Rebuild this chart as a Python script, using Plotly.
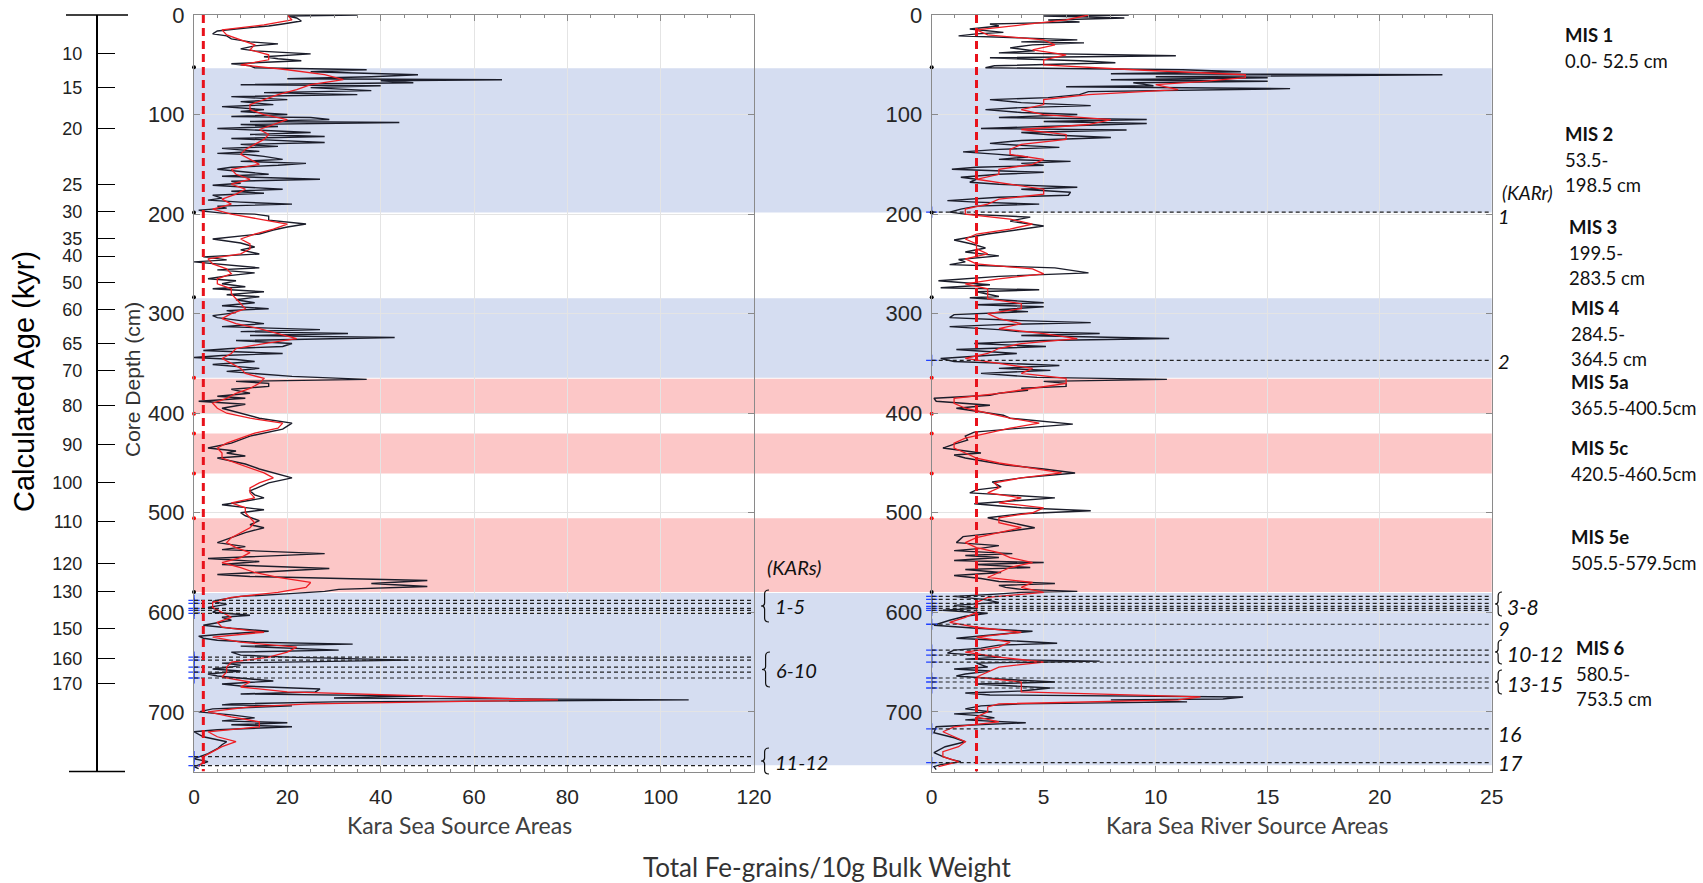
import plotly.graph_objects as go

W, H = 1703, 883


def fx(px):
    return px / W


def fy(py):
    return 1 - py / H


# ---------------- DATA ----------------
# Kara Sea Source Areas (left panel): raw counts (depth cm, Fe-grains/10g)
kara_sea_raw = [
    (0, 35), (1, 20), (3, 22), (6, 23), (9, 19), (11, 16), (14, 9), (16, 5), (19, 4), (21, 7), (24, 8),
    (27, 12), (29, 18), (31, 13), (34, 10), (36, 13), (39, 25), (42, 15), (44, 18), (46, 23), (49, 8),
    (51, 12), (53, 13), (55, 37), (57, 25), (60, 48), (62, 38), (64, 20), (65, 66), (66, 40), (68, 47),
    (70, 10), (71, 40), (73, 25), (76, 38), (78, 15), (80, 35), (82, 8), (85, 20), (87, 10), (90, 17),
    (92, 6), (95, 15), (97, 10), (100, 20), (102, 8), (103, 25), (105, 29), (107, 12), (108, 44), (110, 10),
    (112, 18), (114, 5), (117, 19), (118, 25), (120, 12), (122, 28), (124, 8), (126, 20), (128, 28),
    (130, 10), (132, 18), (134, 6), (137, 14), (139, 5), (140, 11), (142, 15), (145, 19), (147, 10),
    (149, 24), (151, 18), (153, 8), (155, 5), (157, 10), (160, 16), (162, 6), (165, 27), (167, 8),
    (169, 10), (171, 4), (173, 12), (175, 19), (177, 8), (179, 15), (181, 4), (184, 6), (186, 3),
    (188, 10), (190, 21), (192, 5), (194, 7), (196, 1), (197, 2), (199, 6), (200, 13), (202, 16),
    (206, 16), (210, 24), (213, 20), (216, 17), (220, 14), (225, 4), (229, 10), (233, 13), (236, 10),
    (240, 14), (243, 2), (246, 7), (248, 0), (250, 5), (252, 9), (254, 14), (256, 5), (259, 13), (262, 7),
    (265, 3), (267, 9), (270, 6), (273, 11), (275, 4), (278, 15), (281, 7), (283, 14), (286, 9), (289, 13),
    (292, 6), (295, 16), (297, 7), (299, 9), (302, 4), (304, 5), (307, 10), (310, 15), (313, 6), (316, 27),
    (318, 10), (320, 33), (322, 12), (324, 43), (327, 9), (330, 21), (333, 19), (335, 8), (337, 2),
    (340, 19), (342, 6), (344, 0), (346, 9), (348, 13), (351, 4), (355, 14), (358, 7), (360, 12),
    (363, 21), (366, 37), (368, 9), (370, 16), (373, 16), (376, 8), (380, 12), (383, 5), (385, 11),
    (388, 1), (391, 11), (395, 6), (399, 9), (405, 14), (410, 21), (416, 19), (423, 12), (430, 8),
    (435, 3), (438, 9), (440, 7), (443, 11), (445, 5), (451, 11), (456, 14), (460, 17), (465, 21),
    (470, 16), (472, 15), (478, 12), (482, 13), (485, 15), (490, 9), (492, 6), (497, 15), (500, 10),
    (503, 11), (508, 14), (512, 12), (515, 15), (520, 11), (525, 8), (530, 5), (534, 11), (537, 6),
    (541, 28), (544, 12), (546, 3), (549, 14), (552, 6), (556, 29), (559, 16), (562, 5), (564, 12),
    (568, 50), (571, 38), (574, 50), (577, 31), (579, 28), (582, 18), (584, 10), (587, 6), (589, 4),
    (592, 7), (595, 3), (597, 5), (600, 4), (603, 12), (605, 6), (608, 8), (611, 4), (613, 2), (616, 8),
    (619, 16), (622, 6), (624, 1), (626, 2), (628, 5), (630, 13), (632, 34), (634, 10), (636, 20),
    (638, 31), (640, 8), (643, 10), (645, 20), (648, 46), (651, 6), (653, 10), (655, 8), (657, 4),
    (659, 10), (662, 3), (664, 5), (667, 12), (669, 17), (672, 6), (674, 10), (677, 27), (680, 26),
    (682, 10), (684, 49), (686, 30), (688, 106), (690, 30), (692, 8), (693, 6), (694, 21), (697, 4),
    (700, 1), (703, 8), (706, 13), (709, 6), (711, 20), (713, 8), (715, 21), (718, 5), (720, 0),
    (725, 2), (730, 7), (733, 6), (737, 5), (742, 3), (747, 0), (750, 3), (753, 1), (755, 0), (757, 1),
]

# Kara Sea Source Areas: smoothed curve (red)
kara_sea_smooth = [
    (0, 20), (5, 21), (10, 15), (15, 6), (20, 7), (25, 10), (30, 13), (35, 12), (40, 16), (45, 16),
    (50, 10), (55, 20), (60, 28), (65, 32), (70, 25), (75, 22), (80, 18), (85, 15), (90, 12), (95, 12),
    (100, 15), (105, 20), (110, 17), (115, 14), (120, 16), (125, 15), (130, 13), (135, 11), (140, 10),
    (145, 12), (150, 14), (155, 8), (160, 9), (165, 12), (170, 8), (175, 11), (180, 9), (185, 6),
    (190, 8), (195, 4), (200, 8), (205, 14), (210, 20), (215, 17), (220, 13), (225, 10), (230, 12),
    (235, 12), (240, 10), (245, 3), (250, 4), (255, 7), (260, 8), (265, 5), (270, 5), (275, 8), (280, 8),
    (285, 9), (290, 10), (295, 11), (300, 8), (305, 6), (310, 9), (315, 14), (320, 18), (325, 22),
    (330, 15), (335, 9), (340, 8), (345, 6), (350, 8), (355, 10), (360, 11), (365, 15), (370, 14),
    (375, 12), (380, 9), (385, 7), (390, 4), (395, 5), (400, 7), (405, 12), (410, 19), (415, 18),
    (420, 13), (425, 10), (430, 7), (435, 5), (440, 6), (445, 6), (450, 9), (455, 12), (460, 15),
    (465, 17), (470, 14), (475, 12), (480, 12), (485, 13), (490, 8), (495, 11), (500, 11), (505, 12),
    (510, 13), (515, 12), (520, 10), (525, 8), (530, 7), (535, 9), (540, 12), (545, 10), (550, 6),
    (555, 10), (560, 13), (565, 18), (570, 25), (575, 24), (580, 18), (585, 8), (590, 4), (595, 4),
    (600, 6), (605, 8), (610, 5), (615, 6), (620, 15), (625, 4), (630, 10), (635, 22), (640, 20),
    (645, 16), (650, 8), (655, 7), (660, 7), (665, 6), (670, 12), (675, 10), (680, 20), (685, 55),
    (688, 78), (692, 25), (695, 12), (700, 3), (705, 8), (710, 14), (715, 14), (720, 3), (725, 5),
    (730, 9), (735, 6), (740, 4), (745, 2), (750, 2), (755, 1),
]

# Kara Sea River Source Areas (right panel): raw counts
kara_river_raw = [
    (0, 8.8), (1, 5), (2, 7), (3, 8.6), (5, 5.2), (7, 6.6), (9, 2.6), (11, 3), (14, 1.7), (16, 2.5),
    (17.5, 3.2), (19, 2), (21, 1.2), (23, 4), (25, 6.5), (27, 4), (28, 6.8), (30, 4.5), (33, 3.5),
    (36, 4.6), (38, 3), (41, 10.9), (43, 2.6), (46, 6.6), (48, 8.2), (51, 2.8), (53, 2.4), (55, 11.2),
    (57, 13.8), (59, 8), (60, 22.8), (62, 10), (63, 15), (65, 8), (66.5, 15), (68, 9), (71, 9.9), (72, 6),
    (74, 16), (77, 7), (80, 6.6), (83, 5.2), (85, 2.6), (88, 4), (91, 7.1), (93, 4), (95, 2.4), (98, 4),
    (100, 6.5), (103, 3), (105, 9.6), (107, 5), (109, 9.6), (112, 5), (114, 2.2), (115.5, 8.7), (118, 4),
    (120.6, 5.4), (123, 8), (126, 4), (129, 2.6), (131, 4), (133, 5.7), (135, 3), (137.5, 1.4), (140, 3),
    (142.6, 4.3), (145, 3), (147, 6.2), (149, 4), (151, 5), (153, 2), (155, 0.9), (158, 5), (160, 3),
    (163, 1.3), (165, 2), (168, 1.7), (170, 3), (173, 6.5), (175, 4), (178, 6.2), (181, 6.1), (183, 3),
    (186.5, 0.7), (188, 2), (190, 4.8), (192, 2), (195, 1.3), (198, 0.8), (200, 1.5), (203, 4.4),
    (207, 3.5), (212, 5), (215, 4), (220, 2.5), (226, 1), (230, 1.8), (234, 2.4), (238, 1.5), (242, 3),
    (245.6, 1.2), (248, 1.5), (250.7, 0.8), (254, 5.5), (259, 7), (262.5, 3), (265, 1.5), (267, 0.3),
    (271, 2.6), (274, 0.4), (276, 4.8), (278, 2), (282.8, 3), (284, 1.7), (289, 5), (291, 2), (293, 5),
    (296, 3), (298, 4.3), (301, 1), (304, 0.8), (307, 4), (309, 7.1), (311, 3), (313, 0.8), (316, 3),
    (318, 3.9), (320, 7.5), (322, 4), (325, 10.6), (327, 5), (330, 1.9), (333, 5.1), (336, 1.1),
    (340, 3.8), (343, 2), (345, 0.4), (348, 1), (350, 3), (352, 5.7), (355, 3), (357, 5.3), (360, 2.2),
    (364, 4.7), (366, 10.5), (368, 5), (370, 6), (373, 6), (375, 4), (377, 4.3), (380, 3), (382, 2.6),
    (385, 0.1), (388, 0.2), (392, 2.6), (395, 1.1), (398, 2), (402, 3.2), (405, 3.5), (411, 6.3),
    (415, 4), (419, 1.9), (423, 1.5), (427, 1.6), (431, 1), (435, 0.5), (440, 2.2), (442, 1), (445, 1.5),
    (452, 3.3), (456, 5), (460, 6.4), (465, 4), (469, 2.7), (474, 3.1), (477, 2), (480, 1.7), (485, 5.5),
    (491, 1.9), (495, 4), (498, 7.1), (501, 4), (505, 2.5), (509, 3.3), (515, 4.6), (520, 3), (524, 1.4),
    (530, 1.1), (533, 3), (536, 2.1), (538, 1), (541, 3.6), (543, 1.5), (545, 3), (548, 1), (550, 5),
    (552, 2), (555, 4.4), (557, 1.5), (560, 3.1), (563, 1), (566, 2.2), (569, 3), (571, 5.5), (573, 3),
    (575, 3.3), (577, 4), (579, 6.5), (580, 4), (582, 2.7), (584, 1), (587, 2.3), (590, 3), (593, 1),
    (596, 2), (598, 0.5), (601, 2.5), (604, 1.5), (608, 0.8), (613, 0.1), (616, 2), (619, 4.5), (622, 3),
    (626, 1.1), (628, 3), (631, 5.6), (633, 3), (636, 2.2), (638, 1), (641, 0.7), (643, 2), (645, 3.1),
    (647, 1.5), (649, 7.5), (651, 2), (655, 2.5), (657, 1), (659, 2.6), (662, 1.5), (664, 1.1), (667, 3),
    (670, 5.5), (672, 2), (676, 5.3), (679, 4), (681, 1.5), (683, 2.6), (685, 13.9), (687, 13), (688, 8),
    (690, 11.4), (692, 4), (694, 2.2), (697, 1.5), (700, 2.7), (702, 1), (704, 2.3), (706, 2.8),
    (708, 1.5), (711, 4.2), (713, 2), (715, 0.2), (721, 0.1), (726, 1), (730, 1.5), (735, 0.6),
    (741, 0.1), (745, 0.5), (748, 0.9), (750, 1.3), (753, 0.4), (755, 0.1), (758, 0.2),
]

kara_river_smooth = [
    (0, 7), (5, 6), (10, 4), (15, 2), (20, 2.5), (25, 5), (30, 5.5), (35, 4.5), (40, 6), (45, 5), (50, 5),
    (55, 9), (60, 14), (63, 14), (67, 12), (70, 10), (75, 11), (80, 7), (85, 5), (90, 5), (95, 4),
    (100, 5), (105, 8), (110, 7), (115, 4), (120, 6), (125, 6), (130, 4), (135, 3.5), (140, 3.5),
    (145, 5), (150, 4.5), (155, 3), (160, 3), (165, 2), (170, 3.5), (175, 5), (180, 5), (185, 3),
    (190, 2.5), (195, 1.5), (200, 1.5), (205, 3.5), (210, 4.5), (215, 3.5), (220, 2), (225, 1.5),
    (230, 2), (235, 2), (240, 2.5), (245, 1.5), (250, 2), (255, 4.5), (260, 5), (265, 3), (270, 1.5),
    (275, 2.5), (280, 2.5), (285, 2.5), (290, 4), (295, 4), (300, 2.5), (305, 3), (310, 4), (315, 3),
    (320, 5), (325, 6.5), (330, 4), (335, 3), (340, 2.5), (345, 1.5), (350, 3), (355, 4.5), (360, 4),
    (365, 6), (370, 6), (375, 4.5), (380, 3), (385, 1), (390, 1), (395, 1.5), (400, 2.5), (405, 3.5),
    (410, 4.8), (415, 3.5), (420, 2.5), (425, 1.5), (430, 1), (435, 1), (440, 1.5), (445, 2), (450, 3),
    (455, 4.5), (460, 5.8), (465, 4), (470, 2.8), (475, 3), (480, 2.5), (485, 4), (490, 3), (495, 5),
    (500, 4.5), (505, 3), (510, 3), (515, 4), (520, 3), (525, 2), (530, 1.5), (535, 2), (540, 3),
    (545, 3.5), (550, 4.5), (555, 3.5), (560, 3), (565, 2.5), (570, 4.5), (575, 4), (580, 5), (585, 2.5),
    (590, 2), (595, 2), (600, 2), (605, 1.5), (610, 0.8), (615, 2), (620, 4), (625, 2), (630, 3.5),
    (635, 3), (640, 1.5), (645, 3), (650, 5), (655, 3), (660, 2.5), (665, 2), (670, 4), (675, 4),
    (680, 4), (685, 12), (688, 11), (692, 3), (695, 2.5), (700, 2.5), (705, 2), (710, 3), (715, 1),
    (720, 0.5), (725, 1), (730, 1.5), (735, 1.2), (740, 0.5), (745, 0.5), (750, 1.2), (755, 0.3),
]

# Marine isotope stage bands (depth from, depth to, kind)
mis_bands = [(53.5, 198.5, "glacial"), (284.5, 364.5, "glacial"), (365.5, 400.5, "warm"),
             (420.5, 460.5, "warm"), (505.5, 579.5, "warm"), (580.5, 753.5, "glacial")]

# KAR layer depths
kars_depths = [588, 591, 596, 598, 601, 645, 648, 655, 660, 666, 745, 754]
karr_depths = [198, 347, 584, 587, 591, 594, 596, 598, 612, 638, 643, 650, 666, 670, 676, 717, 751]

# boundary markers at x = 0
black_dot_depths = [52.5, 198.5, 283.5, 579.5]
red_dot_depths = [364.5, 400.5, 420.5, 460.5, 505.5]

# threshold (red dashed)
left_threshold = 2
right_threshold = 2

# age scale (kyr) and the core depth it corresponds to (cm)
age_labels = ["10", "15", "20", "25", "30", "35", "40", "50", "60", "65", "70", "80", "90", "100",
              "110", "120", "130", "150", "160", "170"]
age_depths = [38.5, 73.0, 113.8, 170.0, 197.2, 225.0, 242.1, 268.9, 295.6, 329.8, 357.3, 392.7,
              431.6, 469.8, 508.5, 550.7, 579.2, 616.7, 646.8, 671.3]

# MIS labels: (title, lines, x px, y px of title)
mis_labels = [
    ("MIS 1", ["0.0- 52.5 cm"], 1563, 35),
    ("MIS 2", ["53.5-", "198.5 cm"], 1563, 134),
    ("MIS 3", ["199.5-", "283.5 cm"], 1567, 227),
    ("MIS 4", ["284.5-", "364.5 cm"], 1569, 308),
    ("MIS 5a", ["365.5-400.5cm"], 1569, 382),
    ("MIS 5c", ["420.5-460.5cm"], 1569, 448),
    ("MIS 5e", ["505.5-579.5cm"], 1569, 537),
    ("MIS 6", ["580.5-", "753.5 cm"], 1574, 648),
]

# KAR group labels: (text, x px, y px, brace top px, brace bottom px or None)
kars_groups = [("1-5", 773, 606, 590, 622), ("6-10", 774, 670, 652, 687), ("11-12", 773, 762, 748, 774)]
karr_groups = [("1", 1496, 216, None, None), ("2", 1496, 361, None, None),
               ("3-8", 1505, 606, 592, 616), ("9", 1496, 628, None, None),
               ("10-12", 1505, 653, 640, 664), ("13-15", 1505, 683, 670, 694),
               ("16", 1496, 733, None, None), ("17", 1496, 762, None, None)]
# ---------------------------------------

BLUE_BAND = "rgb(213,221,241)"
PINK_BAND = "rgb(252,199,199)"
BLACK_LINE = "#1b1d2a"
RED_LINE = "#ee1d23"
TEXT_FONT = "Lato"
NUM_FONT = "Liberation Sans"

Y0, Y1 = 15, 771.6
LX0, LX1 = 194, 754
RX0, RX1 = 931.7, 1491.7

fig = go.Figure()

for data, xa, ya in [(kara_sea_raw, "x", "y"), (kara_river_raw, "x2", "y2")]:
    fig.add_trace(go.Scatter(x=[v for _, v in data], y=[d for d, _ in data], xaxis=xa, yaxis=ya,
                             mode="lines", line=dict(color=BLACK_LINE, width=1.4),
                             showlegend=False, hoverinfo="skip"))
for data, xa, ya in [(kara_sea_smooth, "x", "y"), (kara_river_smooth, "x2", "y2")]:
    fig.add_trace(go.Scatter(x=[v for _, v in data], y=[d for d, _ in data], xaxis=xa, yaxis=ya,
                             mode="lines", line=dict(color=RED_LINE, width=1.3),
                             showlegend=False, hoverinfo="skip"))

# markers at x=0
for depths, xa, ya in [(kars_depths, "x", "y"), (karr_depths, "x2", "y2")]:
    fig.add_trace(go.Scatter(x=[0] * len(depths), y=depths, xaxis=xa, yaxis=ya, mode="markers",
                             marker=dict(symbol="cross-thin", size=8, line=dict(color="#2040ff", width=1.3)),
                             cliponaxis=False, showlegend=False, hoverinfo="skip"))
for xa, ya in [("x", "y"), ("x2", "y2")]:
    fig.add_trace(go.Scatter(x=[0] * len(black_dot_depths), y=black_dot_depths, xaxis=xa, yaxis=ya,
                             mode="markers", marker=dict(size=4, color="black"), cliponaxis=False,
                             showlegend=False, hoverinfo="skip"))
    fig.add_trace(go.Scatter(x=[0] * len(red_dot_depths), y=red_dot_depths, xaxis=xa, yaxis=ya,
                             mode="markers", marker=dict(size=4, color="red"), cliponaxis=False,
                             showlegend=False, hoverinfo="skip"))

# dummy trace to activate the age axis
fig.add_trace(go.Scatter(x=[0], y=[0], xaxis="x", yaxis="y3", mode="markers",
                         marker=dict(opacity=0), showlegend=False, hoverinfo="skip"))

shapes = []
for d0, d1, kind in mis_bands:
    shapes.append(dict(type="rect", xref="paper", yref="y", x0=fx(LX0), x1=fx(RX1), y0=d0, y1=d1,
                       fillcolor=BLUE_BAND if kind == "glacial" else PINK_BAND,
                       line=dict(width=0), layer="below"))
for d in kars_depths:
    shapes.append(dict(type="line", xref="x domain", yref="y", x0=0, x1=1, y0=d, y1=d,
                       line=dict(color="#222", width=1.2, dash="4px,3px")))
for d in karr_depths:
    shapes.append(dict(type="line", xref="x2 domain", yref="y2", x0=0, x1=1, y0=d, y1=d,
                       line=dict(color="#222", width=1.2, dash="4px,3px")))
shapes.append(dict(type="line", xref="x", yref="y", x0=left_threshold, x1=left_threshold, y0=0, y1=760,
                   line=dict(color="#e8121b", width=3, dash="8px,5px")))
shapes.append(dict(type="line", xref="x2", yref="y2", x0=right_threshold, x1=right_threshold, y0=0, y1=760,
                   line=dict(color="#e8121b", width=3, dash="8px,5px")))
# age axis end caps
shapes.append(dict(type="line", xref="paper", yref="paper", x0=fx(66), x1=fx(128), y0=fy(15), y1=fy(15),
                   line=dict(color="black", width=1.5)))
shapes.append(dict(type="line", xref="paper", yref="paper", x0=fx(69), x1=fx(125), y0=fy(771.6), y1=fy(771.6),
                   line=dict(color="black", width=1.5)))


def brace_path(xt, ya, yb, w):
    """curly brace with tip at xt (px), spanning ya..yb (px), arm width w"""
    ym = (ya + yb) / 2
    xs = xt + w * 0.45
    pts = [("M", [(xt + w, ya)]),
           ("Q", [(xs, ya), (xs, ya + 4)]),
           ("L", [(xs, ym - 3)]),
           ("Q", [(xs, ym), (xt, ym)]),
           ("Q", [(xs, ym), (xs, ym + 3)]),
           ("L", [(xs, yb - 4)]),
           ("Q", [(xs, yb), (xt + w, yb)])]
    s = ""
    for cmd, pl in pts:
        s += cmd + " " + " ".join("%.5f,%.5f" % (fx(px), fy(py)) for px, py in pl) + " "
    return s.strip()


annotations = []


def ann(text, x, y, size, font=TEXT_FONT, color="#111", xanchor="left", angle=0):
    annotations.append(dict(text=text, x=fx(x), y=fy(y), xref="paper", yref="paper", showarrow=False,
                            xanchor=xanchor, yanchor="middle", textangle=angle,
                            font=dict(family=font, size=size, color=color)))


ann("Calculated Age (kyr)", 24, 382, 29, font=NUM_FONT, color="#000", xanchor="center", angle=-90)
ann("Core Depth (cm)", 133, 380, 21, font=NUM_FONT, color="#333", xanchor="center", angle=-90)
ann("Kara Sea Source Areas", 459, 825, 23, color="#404040", xanchor="center")
ann("Kara Sea River Source Areas", 1247, 825, 23, color="#404040", xanchor="center")
ann("Total Fe-grains/10g Bulk Weight", 827, 867, 26, color="#333", xanchor="center")

for title, lines, x, y in mis_labels:
    ann("<b>" + title + "</b>", x, y, 18.5)
    for i, ln in enumerate(lines):
        ann(ln, x, y + 26 + 25 * i, 18.5)

ann("<i>(KARs)</i>", 765, 567, 20)
for text, x, y, ya, yb in kars_groups:
    ann("<i>" + text + "</i>", x, y, 20)
    shapes.append(dict(type="path", xref="paper", yref="paper", path=brace_path(x - 12, ya, yb, 8),
                       line=dict(color="#111", width=1.2)))
ann("<i>(KARr)</i>", 1500, 192, 19)
for text, x, y, ya, yb in karr_groups:
    ann("<i>" + text + "</i>", x, y, 21 if len(text) > 1 else 20)
    if ya is not None:
        shapes.append(dict(type="path", xref="paper", yref="paper", path=brace_path(x - 10, ya, yb, 7),
                           line=dict(color="#111", width=1.2)))

xcommon = dict(showline=True, linecolor="#8a8a8a", linewidth=1, mirror="ticks", ticks="inside",
               ticklen=6, tickcolor="#8a8a8a", showgrid=True, gridcolor="#e4e4e4", zeroline=False,
               tickfont=dict(family=NUM_FONT, size=21, color="#262626"), ticklabelstandoff=6,
               automargin=False)
ycommon = dict(showline=True, linecolor="#8a8a8a", linewidth=1, mirror="ticks", ticks="inside",
               ticklen=6, tickcolor="#8a8a8a", showgrid=True, gridcolor="#e4e4e4", zeroline=False,
               range=[760, 0], tick0=0, dtick=100,
               tickfont=dict(family=NUM_FONT, size=22, color="#262626"), ticklabelstandoff=4,
               domain=[fy(Y1), fy(Y0)], automargin=False)

fig.update_layout(
    width=W, height=H, margin=dict(l=0, r=0, t=0, b=0, autoexpand=False),
    paper_bgcolor="white", plot_bgcolor="rgba(0,0,0,0)", showlegend=False,
    xaxis=dict(domain=[fx(LX0), fx(LX1)], range=[0, 120], tick0=0, dtick=20, anchor="y",
               minor=dict(dtick=5, ticks="inside", ticklen=3, tickcolor="#8a8a8a", showgrid=False),
               **xcommon),
    yaxis=dict(anchor="x", **ycommon),
    xaxis2=dict(domain=[fx(RX0), fx(RX1)], range=[0, 25], tick0=0, dtick=5, anchor="y2",
                minor=dict(dtick=1, ticks="inside", ticklen=3, tickcolor="#8a8a8a", showgrid=False),
                **xcommon),
    yaxis2=dict(anchor="x2", **ycommon),
    yaxis3=dict(overlaying="y", anchor="free", position=fx(96.7), side="left", range=[760, 0],
                tickmode="array", tickvals=age_depths, ticktext=age_labels, ticks="inside", ticklen=18,
                tickcolor="black", tickwidth=1.2, showline=True, linecolor="black", linewidth=1.5,
                showgrid=False, zeroline=False, ticklabelstandoff=10, automargin=False,
                tickfont=dict(family=NUM_FONT, size=18, color="#222")),
    shapes=shapes,
    annotations=annotations,
)

fig.write_html("out.html")
